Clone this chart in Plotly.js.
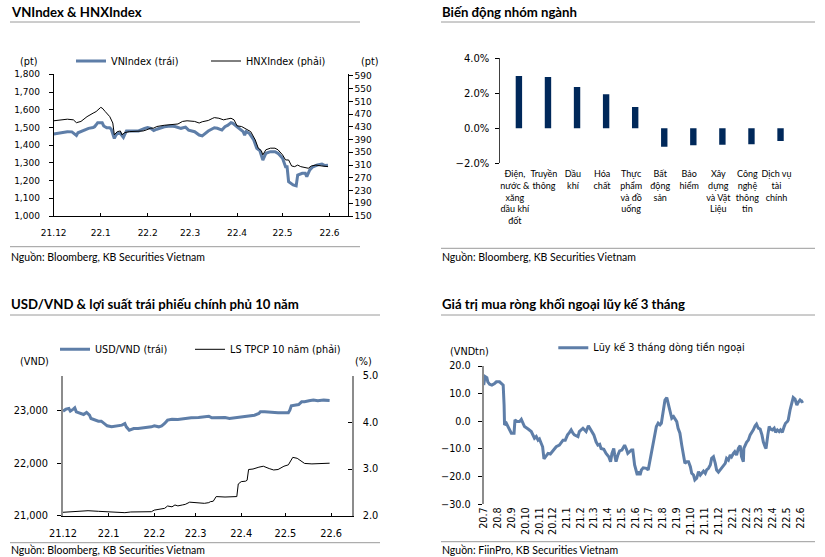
<!DOCTYPE html>
<html><head><meta charset="utf-8">
<script src="https://cdn.plot.ly/plotly-3.0.1.min.js"></script>
<style>html,body{margin:0;padding:0;background:#fff}#chart{width:825px;height:557px}</style>
</head><body><div id="chart"></div>
<script>
// ---------- DATA ----------
const vnDates = ['2021-12-01','2021-12-03','2021-12-06','2021-12-08','2021-12-10','2021-12-13','2021-12-15','2021-12-16','2021-12-17','2021-12-20','2021-12-22','2021-12-24','2021-12-27','2021-12-28','2021-12-29','2021-12-30','2022-01-02','2022-01-03','2022-01-05','2022-01-07','2022-01-08','2022-01-09','2022-01-10','2022-01-11','2022-01-12','2022-01-14','2022-01-16','2022-01-18','2022-01-22','2022-01-26','2022-01-30','2022-02-01','2022-02-03','2022-02-05','2022-02-07','2022-02-09','2022-02-12','2022-02-16','2022-02-19','2022-02-23','2022-02-26','2022-02-28','2022-03-04','2022-03-07','2022-03-09','2022-03-13','2022-03-17','2022-03-19','2022-03-22','2022-03-24','2022-03-26','2022-03-28','2022-03-29','2022-04-01','2022-04-03','2022-04-05','2022-04-06','2022-04-07','2022-04-09','2022-04-12','2022-04-14','2022-04-16','2022-04-18','2022-04-20','2022-04-23','2022-04-26','2022-04-28','2022-05-01','2022-05-03','2022-05-04','2022-05-05','2022-05-08','2022-05-10','2022-05-11','2022-05-14','2022-05-16','2022-05-17','2022-05-19','2022-05-21','2022-05-24','2022-05-27','2022-05-29','2022-05-31'];
const vnValues = [1463,1466,1470,1474,1476,1475,1460,1455,1470,1481,1488,1495,1500,1504,1515,1527,1526,1508,1498,1498,1490,1457,1438,1455,1467,1466,1444,1480,1480,1480,1495,1500,1495,1482,1490,1497,1504,1508,1505,1495,1502,1485,1476,1457,1452,1480,1498,1495,1485,1504,1513,1527,1524,1504,1489,1476,1457,1476,1467,1429,1382,1369,1316,1354,1363,1363,1354,1326,1278,1278,1194,1175,1170,1231,1241,1241,1222,1260,1278,1288,1293,1285,1287];

const hnxDates = ['2021-12-01','2021-12-06','2021-12-10','2021-12-14','2021-12-16','2021-12-19','2021-12-23','2021-12-27','2021-12-29','2022-01-01','2022-01-02','2022-01-04','2022-01-07','2022-01-09','2022-01-10','2022-01-12','2022-01-14','2022-01-15','2022-01-17','2022-01-20','2022-01-29','2022-01-31','2022-02-03','2022-02-05','2022-02-07','2022-02-12','2022-02-16','2022-02-21','2022-02-24','2022-02-27','2022-03-04','2022-03-07','2022-03-09','2022-03-13','2022-03-16','2022-03-17','2022-03-20','2022-03-23','2022-03-25','2022-03-28','2022-03-30','2022-04-01','2022-04-04','2022-04-06','2022-04-08','2022-04-10','2022-04-13','2022-04-15','2022-04-17','2022-04-18','2022-04-20','2022-04-23','2022-04-26','2022-04-28','2022-05-01','2022-05-03','2022-05-05','2022-05-07','2022-05-09','2022-05-11','2022-05-13','2022-05-16','2022-05-18','2022-05-20','2022-05-23','2022-05-27','2022-05-31'];
const hnxValues = [449,452,454,452,443,447,462,473,478,491,489,478,462,442,405,415,417,405,412,415,417,420,426,426,431,435,436,439,447,449,447,442,446,450,457,459,457,452,454,457,452,433,431,426,420,415,389,363,355,342,358,363,363,358,342,326,326,307,305,310,305,303,300,307,310,307,305];

const sectorNames = ['Điện,<br>nước &<br>xăng<br>dầu khí<br>đốt','Truyền<br>thông','Dầu<br>khí','Hóa<br>chất','Thực<br>phẩm<br>và đồ<br>uống','Bất<br>động<br>sản','Bảo<br>hiểm','Xây<br>dựng<br>và Vật<br>Liệu','Công<br>nghệ<br>thông<br>tin','Dịch vụ<br>tài<br>chính'];
const sectorChange = [2.99,2.93,2.36,1.94,1.22,-1.05,-0.97,-0.94,-0.91,-0.73];

const usdDates = ['2021-12-01','2021-12-03','2021-12-05','2021-12-06','2021-12-08','2021-12-09','2021-12-10','2021-12-12','2021-12-15','2021-12-17','2021-12-19','2021-12-20','2021-12-23','2021-12-25','2021-12-27','2021-12-29','2021-12-31','2022-01-03','2022-01-06','2022-01-10','2022-01-12','2022-01-13','2022-01-15','2022-01-18','2022-01-21','2022-01-25','2022-01-30','2022-02-01','2022-02-04','2022-02-06','2022-02-08','2022-02-10','2022-02-13','2022-02-17','2022-02-22','2022-02-26','2022-03-03','2022-03-07','2022-03-10','2022-03-12','2022-03-17','2022-03-21','2022-03-24','2022-03-28','2022-04-01','2022-04-06','2022-04-10','2022-04-13','2022-04-14','2022-04-17','2022-04-22','2022-04-26','2022-05-03','2022-05-04','2022-05-05','2022-05-08','2022-05-10','2022-05-12','2022-05-14','2022-05-17','2022-05-20','2022-05-23','2022-05-27','2022-05-31'];
const usdValues = [22994,23032,23045,22994,23032,23057,22981,22962,22930,22968,22917,22854,22822,22803,22803,22758,22714,22695,22714,22727,22758,22695,22631,22663,22663,22676,22695,22714,22695,22714,22758,22822,22841,22835,22854,22866,22873,22886,22898,22866,22873,22873,22854,22866,22879,22905,22917,22949,22981,22981,22968,22962,22962,23013,23095,23108,23121,23172,23172,23191,23204,23191,23204,23197];

const yieldDates = ['2021-12-01','2021-12-06','2021-12-11','2021-12-18','2021-12-25','2021-12-31','2022-01-07','2022-01-12','2022-01-16','2022-01-23','2022-01-30','2022-02-01','2022-02-06','2022-02-08','2022-02-10','2022-02-13','2022-02-15','2022-02-17','2022-02-20','2022-02-22','2022-02-25','2022-02-28','2022-03-03','2022-03-07','2022-03-10','2022-03-11','2022-03-13','2022-03-15','2022-03-21','2022-03-25','2022-03-29','2022-03-30','2022-04-01','2022-04-04','2022-04-05','2022-04-06','2022-04-09','2022-04-13','2022-04-16','2022-04-20','2022-04-23','2022-04-26','2022-04-30','2022-05-03','2022-05-06','2022-05-09','2022-05-11','2022-05-14','2022-05-19','2022-05-23','2022-05-27','2022-05-31'];
const yieldValues = [2.073,2.08,2.094,2.107,2.094,2.086,2.073,2.065,2.08,2.08,2.086,2.12,2.158,2.158,2.208,2.19,2.23,2.21,2.23,2.243,2.29,2.28,2.28,2.265,2.28,2.30,2.31,2.41,2.40,2.40,2.41,2.68,2.73,2.74,2.76,2.99,3.00,3.04,3.06,3.01,2.98,2.99,3.06,3.09,3.25,3.23,3.18,3.12,3.11,3.12,3.12,3.125];

const flowDates = ['2020-07-01','2020-07-04','2020-07-08','2020-07-10','2020-07-14','2020-07-19','2020-07-25','2020-07-29','2020-08-05','2020-08-09','2020-08-13','2020-08-15','2020-08-16','2020-08-20','2020-08-24','2020-08-28','2020-08-31','2020-09-06','2020-09-08','2020-09-13','2020-09-18','2020-09-22','2020-09-25','2020-09-29','2020-10-07','2020-10-14','2020-10-21','2020-10-25','2020-10-29','2020-11-01','2020-11-05','2020-11-08','2020-11-11','2020-11-16','2020-11-20','2020-11-25','2020-12-01','2020-12-08','2020-12-15','2020-12-23','2020-12-28','2021-01-02','2021-01-06','2021-01-10','2021-01-14','2021-01-17','2021-01-25','2021-01-28','2021-02-05','2021-02-08','2021-02-12','2021-02-17','2021-02-23','2021-03-01','2021-03-06','2021-03-10','2021-03-14','2021-03-17','2021-03-23','2021-03-28','2021-04-03','2021-04-07','2021-04-10','2021-04-14','2021-04-16','2021-04-19','2021-04-23','2021-04-27','2021-05-02','2021-05-08','2021-05-12','2021-05-15','2021-05-19','2021-05-23','2021-05-26','2021-05-30','2021-06-05','2021-06-08','2021-06-11','2021-06-14','2021-06-18','2021-06-25','2021-06-29','2021-07-03','2021-07-06','2021-07-10','2021-07-14','2021-07-17','2021-07-21','2021-07-25','2021-07-28','2021-08-01','2021-08-05','2021-08-09','2021-08-13','2021-08-16','2021-08-20','2021-08-24','2021-08-28','2021-08-31','2021-09-03','2021-09-07','2021-09-11','2021-09-15','2021-09-18','2021-09-22','2021-09-26','2021-09-30','2021-10-03','2021-10-07','2021-10-10','2021-10-14','2021-10-18','2021-10-22','2021-10-25','2021-10-29','2021-11-02','2021-11-05','2021-11-09','2021-11-13','2021-11-16','2021-11-20','2021-11-24','2021-11-27','2021-12-01','2021-12-05','2021-12-08','2021-12-12','2021-12-16','2021-12-19','2021-12-23','2021-12-27','2021-12-30','2022-01-03','2022-01-06','2022-01-10','2022-01-14','2022-01-18','2022-01-21','2022-01-25','2022-01-26','2022-02-01','2022-02-05','2022-02-09','2022-02-12','2022-02-16','2022-02-20','2022-02-23','2022-02-27','2022-03-03','2022-03-07','2022-03-10','2022-03-14','2022-03-16','2022-03-20','2022-03-23','2022-03-26','2022-03-30','2022-04-03','2022-04-06','2022-04-10','2022-04-14','2022-04-17','2022-04-21','2022-04-25','2022-04-28','2022-05-02','2022-05-04','2022-05-08','2022-05-12','2022-05-15','2022-05-19','2022-05-23','2022-05-26','2022-05-30','2022-06-03','2022-06-06'];
const flowValues = [13.1,16.2,15.8,14.3,13.4,13.1,13.7,14.3,14.3,13.7,13.1,5.9,-1.3,-0.7,-1.9,-3.1,-4.3,-4.3,0.5,-0.1,-0.1,0.7,-0.7,-1.9,-2.8,-3.7,-6.1,-5.5,-6.8,-6.4,-8.0,-9.2,-13.6,-12.2,-11.6,-11.8,-10.4,-9.2,-8.6,-6.8,-6.8,-4.9,-4.1,-3.1,-4.3,-4.9,-5.5,-3.7,-2.5,-3.1,-3.7,-1.6,-3.1,-4.9,-7.4,-8.6,-8.3,-9.8,-10.1,-11.6,-12.8,-14.6,-11.6,-9.8,-12.2,-14.6,-12.2,-10.7,-10.4,-8.6,-10.1,-11.6,-11.0,-10.4,-10.4,-15.8,-19.4,-18.2,-19.4,-17.6,-16.8,-17.0,-17.6,-14.0,-10.4,-8.0,-4.3,-1.9,-0.7,-1.3,-0.7,3.5,7.7,8.6,5.9,4.7,1.1,1.7,0.5,-0.1,-2.5,-4.3,-8.6,-12.2,-15.2,-14.6,-14.6,-16.4,-18.8,-19.4,-21.2,-20.6,-18.2,-19.4,-18.8,-18.0,-18.8,-17.6,-17.0,-15.8,-13.4,-12.8,-15.2,-17.6,-18.4,-17.6,-17.0,-15.8,-15.2,-13.4,-14.0,-12.2,-12.8,-11.6,-11.0,-12.2,-9.8,-8.8,-12.8,-14.6,-9.8,-7.6,-6.8,-4.9,-4.3,-3.1,-1.6,-1.0,-2.5,-2.8,-4.9,-7.4,-9.2,-9.8,-4.9,-1.9,-2.8,-3.1,-2.5,-4.0,-3.1,-3.7,-3.1,-4.0,-1.9,-0.7,-0.1,0.5,4.1,7.1,8.6,8.0,5.9,6.9,7.7,7.1,7.4];

// ---------- LAYOUT HELPERS ----------
const W = 825, H = 557;
const px = v => v / W;
const py = v => 1 - v / H;
const BLUE = '#5E7EA8', NAVY = '#00285A', GREY = '#8C8C8C';
const TF = 'DejaVu Sans';
const TXT = 'Lato';

const traces = [
  {x: vnDates, y: vnValues, type: 'scatter', mode: 'lines', name: 'VNIndex (trái)',
   line: {color: BLUE, width: 3}, xaxis: 'x', yaxis: 'y', legend: 'legend'},
  {x: hnxDates, y: hnxValues, type: 'scatter', mode: 'lines', name: 'HNXIndex (phải)',
   line: {color: '#000', width: 1}, xaxis: 'x', yaxis: 'y2', legend: 'legend2'},
  {x: sectorNames, y: sectorChange, type: 'bar', marker: {color: NAVY}, width: 0.22, offset: 0.03,
   xaxis: 'x2', yaxis: 'y3', showlegend: false},
  {x: usdDates, y: usdValues, type: 'scatter', mode: 'lines', name: 'USD/VND (trái)',
   line: {color: BLUE, width: 3}, xaxis: 'x4', yaxis: 'y4', legend: 'legend3'},
  {x: yieldDates, y: yieldValues, type: 'scatter', mode: 'lines', name: 'LS TPCP 10 năm (phải)',
   line: {color: '#000', width: 1}, xaxis: 'x4', yaxis: 'y5', legend: 'legend4'},
  {x: flowDates, y: flowValues, type: 'scatter', mode: 'lines', name: 'Lũy kế 3 tháng dòng tiền ngoại',
   line: {color: BLUE, width: 3}, xaxis: 'x5', yaxis: 'y6', legend: 'legend5'}
];

const base = {showgrid: false, zeroline: false, color: '#000', tickcolor: '#000'};
const leg = (x, y) => ({orientation: 'h', x: px(x), y: py(y), xanchor: 'left', yanchor: 'middle',
  bgcolor: 'rgba(0,0,0,0)', font: {family: TF, size: 9.7}});

const layout = {
  width: W, height: H, margin: {l: 0, r: 0, t: 0, b: 0},
  paper_bgcolor: '#fff', plot_bgcolor: 'rgba(0,0,0,0)',
  font: {family: TF, size: 9, color: '#000'},
  // Panel 1
  xaxis: Object.assign({}, base, {domain: [px(53.7), px(347.7)], anchor: 'y', type: 'date',
    range: ['2021-12-01', '2022-06-13'], tick0: '2021-12-01', dtick: 'M1', tickformat: '%y.%-m',
    ticks: 'inside', ticklen: 3, showline: true, linecolor: '#000', linewidth: 1,
    tickfont: {family: TF, size: 9}, ticklabelstandoff: 8}),
  yaxis: Object.assign({}, base, {domain: [py(216), py(74.3)], anchor: 'x', range: [1000, 1800],
    tick0: 1000, dtick: 100, tickformat: ',', ticks: 'outside', ticklen: 4, showline: true,
    linecolor: '#000', tickfont: {family: TF, size: 9}, ticklabelstandoff: 7}),
  yaxis2: Object.assign({}, base, {overlaying: 'y', side: 'right', anchor: 'x', range: [150, 595],
    tick0: 150, dtick: 40, ticks: 'outside', ticklen: 4, showline: true, linecolor: '#000',
    tickfont: {family: TF, size: 9}}),
  // Panel 2
  xaxis2: Object.assign({}, base, {domain: [px(500.3), px(791)], anchor: 'y3', type: 'category',
    range: [-0.5, 9.5], showline: false, ticks: '', tickfont: {family: TXT, size: 9},
    ticklabelstandoff: 4, tickangle: 0}),
  xaxis3: Object.assign({}, base, {overlaying: 'x2', anchor: 'free', position: py(128.3),
    domain: [px(500.3), px(791)], range: [-0.5, 9.5], tickmode: 'array',
    tickvals: [0.5, 1.5, 2.5, 3.5, 4.5, 5.5, 6.5, 7.5, 8.5, 9.5],
    ticks: 'outside', ticklen: 3, showline: true, linecolor: '#000', showticklabels: false}),
  yaxis3: Object.assign({}, base, {domain: [py(163.3), py(58.3)], anchor: 'x2', range: [-2, 4],
    tick0: 0, dtick: 2, tickformat: '.1f', ticksuffix: '%', ticks: 'outside', ticklen: 4,
    showline: true, linecolor: '#404040', tickfont: {family: TF, size: 10}, ticklabelstandoff: 4}),
  // Panel 3
  xaxis4: Object.assign({}, base, {domain: [px(63), px(351.7)], anchor: 'y4', type: 'date',
    range: ['2021-12-01', '2022-06-15'], tick0: '2021-12-01', dtick: 'M1', tickformat: '%y.%-m',
    ticks: 'inside', ticklen: 3, showline: true, linecolor: '#000',
    tickfont: {family: TF, size: 9.8}, ticklabelstandoff: 9}),
  yaxis4: Object.assign({}, base, {domain: [py(515.7), py(375.7)], anchor: 'x4', range: [21000, 23670],
    tick0: 21000, dtick: 1000, tickformat: ',', ticks: 'outside', ticklen: 4, showline: true,
    linecolor: GREY, linewidth: 2, tickfont: {family: TF, size: 9.8}, ticklabelstandoff: 7}),
  yaxis5: Object.assign({}, base, {overlaying: 'y4', side: 'right', anchor: 'x4', range: [2, 5],
    tick0: 2, dtick: 1, tickformat: '.1f', ticks: 'inside', ticklen: 4, showline: true,
    linecolor: GREY, linewidth: 2, tickfont: {family: TF, size: 9.8}, ticklabelstandoff: 7}),
  // Panel 4
  xaxis5: Object.assign({}, base, {domain: [px(483.7), px(805)], anchor: 'y6', type: 'date',
    range: ['2020-07-01', '2022-06-10'], tick0: '2020-07-01', dtick: 'M1', tickformat: '%y.%-m',
    tickangle: -90, showline: false, ticks: '', tickfont: {family: TF, size: 9.7}}),
  xaxis6: Object.assign({}, base, {overlaying: 'x5', anchor: 'free', position: py(421.3), type: 'date',
    domain: [px(483.7), px(805)], range: ['2020-07-01', '2022-06-10'], tick0: '2020-07-01', dtick: 'M1',
    ticks: 'inside', ticklen: 3, showline: true, linecolor: '#000', showticklabels: false}),
  yaxis6: Object.assign({}, base, {domain: [py(504.3), py(366)], anchor: 'x5', range: [-30, 20],
    tick0: 0, dtick: 10, tickformat: '.1f', ticks: 'outside', ticklen: 4, showline: true,
    linecolor: GREY, linewidth: 2, tickfont: {family: TF, size: 9.7}, ticklabelstandoff: 5}),
  legend: leg(71, 61),
  legend2: leg(206, 61),
  legend3: leg(55, 349.3),
  legend4: leg(190, 349.3),
  legend5: leg(553.3, 347.7),
  shapes: [
    [10, 360, 22], [441, 815, 22], [10, 360, 246.7], [441, 815, 248.3],
    [10, 380, 315], [441, 815, 315], [10, 380, 542.7], [441, 815, 541.7]
  ].map(s => ({type: 'line', xref: 'paper', yref: 'paper', x0: px(s[0]), x1: px(s[1]),
    y0: py(s[2]), y1: py(s[2]), line: {color: '#9a9a9a', width: 1}})),
  annotations: []
};

function ann(text, x, y, opts) {
  layout.annotations.push(Object.assign({text: text, xref: 'paper', yref: 'paper', x: px(x), y: py(y),
    xanchor: 'left', yanchor: 'middle', showarrow: false, font: {family: TXT, size: 10.5, color: '#000'}}, opts || {}));
}
const titleFont = {family: TXT, size: 13.2, color: '#000'};
ann('<b>VNIndex & HNXIndex</b>', 9, 12, {font: titleFont});
ann('<b>Biến động nhóm ngành</b>', 440, 12, {font: titleFont});
ann('<b>USD/VND & lợi suất trái phiếu chính phủ 10 năm</b>', 9, 304, {font: titleFont});
ann('<b>Giá trị mua ròng khối ngoại lũy kế 3 tháng</b>', 440, 304, {font: titleFont});
ann('Nguồn: Bloomberg, KB Securities Vietnam', 9, 256.5);
ann('Nguồn: Bloomberg, KB Securities Vietnam', 440, 256.5);
ann('Nguồn: Bloomberg, KB Securities Vietnam', 9, 549.5);
ann('Nguồn: FiinPro, KB Securities Vietnam', 440, 549.5);
const unitFont = {family: TF, size: 9.7, color: '#000'};
ann('(pt)', 18, 61.5, {font: unitFont});
ann('(pt)', 359, 61.5, {font: unitFont});
ann('(VND)', 18, 361, {font: unitFont});
ann('(%)', 353, 361, {font: unitFont});
ann('(VNDtn)', 448, 351.7, {font: unitFont});

Plotly.newPlot('chart', traces, layout, {staticPlot: true, displayModeBar: false});
</script></body></html>
